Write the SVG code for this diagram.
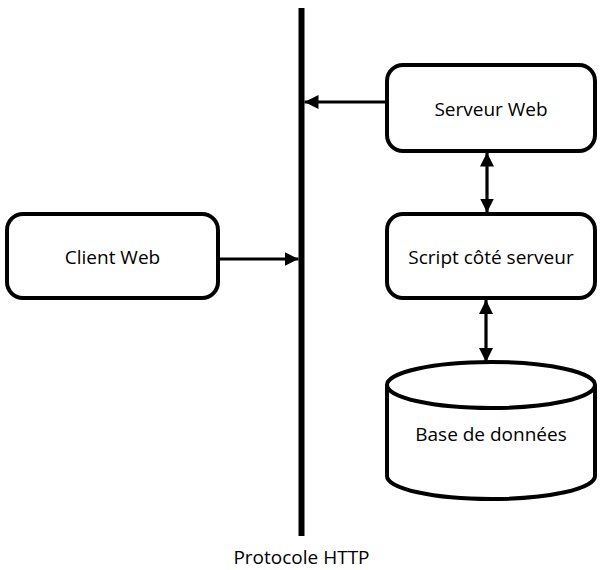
<svg xmlns="http://www.w3.org/2000/svg" width="603" height="570" viewBox="0 0 603 570">
<defs>
<marker id="ah" markerUnits="userSpaceOnUse" markerWidth="14" markerHeight="14" viewBox="0 0 12 12" refX="12" refY="6" orient="auto-start-reverse">
<path d="M0,0 L12,6 L0,12 Z" fill="#000"/>
</marker>
</defs>
<style>
.box{fill:#fff;stroke:#000;stroke-width:4}
.lbl{font-family:"Open Sans","Noto Sans",sans-serif;font-size:19px;fill:#000;text-anchor:middle}
.con{stroke:#000;stroke-width:3.2;fill:none}
</style>
<rect width="603" height="570" fill="#fff"/>
<g id="http-bus">
<line x1="301.5" y1="8" x2="301.5" y2="536" stroke="#000" stroke-width="6"/>
<text class="lbl" x="301.5" y="564">Protocole HTTP</text>
</g>
<g id="connectors">
<line class="con" x1="386" y1="102" x2="304.5" y2="102" marker-end="url(#ah)"/>
<line class="con" x1="219" y1="259" x2="298.5" y2="259" marker-end="url(#ah)"/>
<line class="con" x1="487" y1="152.5" x2="487" y2="212.5" marker-start="url(#ah)" marker-end="url(#ah)"/>
<line class="con" x1="486" y1="300" x2="486" y2="362" marker-start="url(#ah)" marker-end="url(#ah)"/>
</g>
<g id="serveur-web">
<rect class="box" x="387" y="65" width="208" height="86" rx="16"/>
<text class="lbl" x="491" y="115.5">Serveur Web</text>
</g>
<g id="script-serveur">
<rect class="box" x="387" y="214" width="208" height="84" rx="16"/>
<text class="lbl" x="491" y="264">Script côté serveur</text>
</g>
<g id="client-web">
<rect class="box" x="7" y="214" width="211" height="84" rx="16"/>
<text class="lbl" x="112.5" y="264">Client Web</text>
</g>
<g id="base-donnees">
<path class="box" d="M387,385 A104,23 0 0 1 595,385 L595,476 A104,23 0 0 1 387,476 Z"/>
<path class="box" fill="none" d="M387,385 A104,23 0 0 0 595,385"/>
<text class="lbl" x="491" y="441">Base de données</text>
</g>
</svg>
